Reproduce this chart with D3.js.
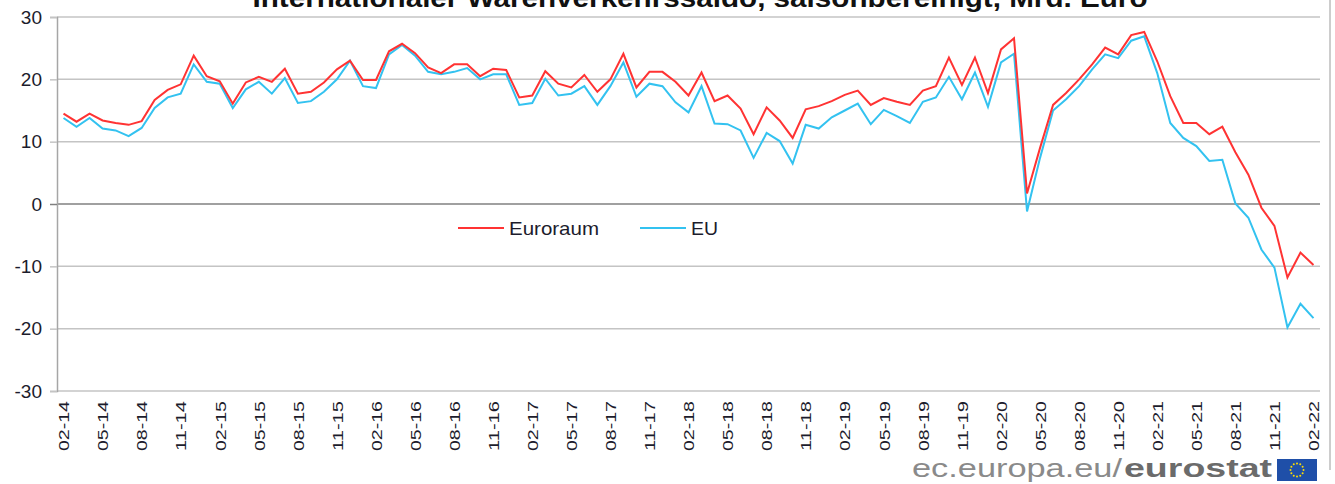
<!DOCTYPE html>
<html>
<head>
<meta charset="utf-8">
<script src="https://cdn.jsdelivr.net/npm/d3@7"></script>
<style>
  body { margin: 0; background: #fff; }
  svg { display: block; font-family: Arial, "Liberation Sans", sans-serif; }
</style>
</head>
<body>
<script>
let months = [
    "02-14","03-14","04-14","05-14","06-14","07-14","08-14","09-14","10-14","11-14","12-14",
    "01-15","02-15","03-15","04-15","05-15","06-15","07-15","08-15","09-15","10-15","11-15","12-15",
    "01-16","02-16","03-16","04-16","05-16","06-16","07-16","08-16","09-16","10-16","11-16","12-16",
    "01-17","02-17","03-17","04-17","05-17","06-17","07-17","08-17","09-17","10-17","11-17","12-17",
    "01-18","02-18","03-18","04-18","05-18","06-18","07-18","08-18","09-18","10-18","11-18","12-18",
    "01-19","02-19","03-19","04-19","05-19","06-19","07-19","08-19","09-19","10-19","11-19","12-19",
    "01-20","02-20","03-20","04-20","05-20","06-20","07-20","08-20","09-20","10-20","11-20","12-20",
    "01-21","02-21","03-21","04-21","05-21","06-21","07-21","08-21","09-21","10-21","11-21","12-21",
    "01-22","02-22"];

let tickLabels = ["02-14","05-14","08-14","11-14","02-15","05-15","08-15","11-15","02-16","05-16","08-16",
    "11-16","02-17","05-17","08-17","11-17","02-18","05-18","08-18","11-18","02-19","05-19","08-19","11-19",
    "02-20","05-20","08-20","11-20","02-21","05-21","08-21","11-21","02-22"];

let yTicks = [-30, -20, -10, 0, 10, 20, 30];

// Euroraum, Mrd. Euro
let euroraum = [
    14.5, 13.2, 14.5, 13.4, 13.0, 12.7, 13.3, 16.7, 18.3, 19.2, 23.8,
    20.5, 19.7, 16.1, 19.5, 20.4, 19.6, 21.7, 17.7, 18.0, 19.5, 21.6, 23.0,
    19.9, 19.9, 24.5, 25.7, 24.2, 21.9, 21.0, 22.4, 22.4, 20.5, 21.7, 21.5,
    17.1, 17.4, 21.3, 19.3, 18.7, 20.7, 18.0, 20.0, 24.1, 18.7, 21.2, 21.2,
    19.6, 17.4, 21.1, 16.5, 17.4, 15.3, 11.2, 15.5, 13.4, 10.6, 15.2, 15.7,
    16.5, 17.5, 18.2, 15.9, 17.0, 16.4, 15.9, 18.2, 18.9, 23.5, 19.1, 23.5,
    17.8, 24.8, 26.6, 1.7, 9.0, 15.9, 17.8, 20.0, 22.4, 25.1, 24.0, 27.1,
    27.6, 22.9, 17.3, 13.0, 13.0, 11.2, 12.4, 8.3, 4.7, -0.6, -3.5, -11.8,
    -7.8, -9.8];

// EU, Mrd. Euro
let eu = [
    13.8, 12.4, 13.8, 12.1, 11.8, 10.9, 12.2, 15.4, 17.1, 17.7, 22.4,
    19.6, 19.3, 15.4, 18.4, 19.6, 17.7, 20.2, 16.2, 16.5, 18.0, 20.0, 23.0,
    18.9, 18.6, 24.0, 25.5, 23.8, 21.2, 20.8, 21.2, 21.8, 20.0, 20.8, 20.8,
    15.9, 16.2, 20.1, 17.4, 17.7, 18.9, 15.9, 18.9, 22.7, 17.2, 19.3, 18.9,
    16.3, 14.7, 18.9, 12.9, 12.8, 11.8, 7.4, 11.4, 10.1, 6.5, 12.7, 12.1,
    13.9, 15.0, 16.1, 12.8, 15.1, 14.1, 13.0, 16.4, 17.1, 20.4, 16.8, 21.1,
    15.6, 22.7, 24.1, -1.2, 7.4, 15.0, 16.8, 18.9, 21.6, 24.0, 23.4, 26.2,
    26.9, 21.0, 13.0, 10.6, 9.3, 6.9, 7.1, 0.1, -2.2, -7.3, -10.2, -19.8,
    -16.0, -18.3];

let svgWidth = 1335,
    svgHeight = 484,
    plot = { left: 57, right: 1320, top: 17, bottom: 391 },
    redColor = "#ff3333",
    blueColor = "#33c2f0";

let svg = d3.select("body").append("svg")
    .attr("width", svgWidth)
    .attr("height", svgHeight);

let x = d3.scalePoint().domain(months).range([plot.left, plot.right]).padding(0.5);
let y = d3.scaleLinear().domain([-30, 30]).range([plot.bottom, plot.top]);

// title (cut off at the top edge in the original)
svg.append("text")
    .attr("x", 700)
    .attr("y", 7)
    .attr("text-anchor", "middle")
    .attr("textLength", 895)
    .attr("lengthAdjust", "spacingAndGlyphs")
    .style("font-size", "26px")
    .style("font-weight", "bold")
    .style("fill", "#111")
    .text("Internationaler Warenverkehrssaldo, saisonbereinigt, Mrd. Euro");

// grid lines
svg.append("g")
    .selectAll("line")
    .data(yTicks)
    .join("line")
    .attr("x1", plot.left)
    .attr("x2", plot.right)
    .attr("y1", d => y(d))
    .attr("y2", d => y(d))
    .attr("stroke", d => d === 0 ? "#808080" : "#c4c4c4")
    .attr("stroke-width", 1.5);

// y axis: outward ticks + labels
let yAxis = d3.axisLeft(y).tickValues(yTicks).tickSize(7).tickPadding(8).tickFormat(d => String(d));
let yAxisG = svg.append("g")
    .attr("transform", "translate(" + plot.left + ",0)")
    .call(yAxis);
yAxisG.select(".domain")
    .attr("stroke", "#a6a6a6")
    .attr("stroke-width", 1.5);
yAxisG.selectAll(".tick line")
    .attr("stroke", d => d === 0 ? "#808080" : "#c4c4c4")
    .attr("stroke-width", 1.5);
yAxisG.selectAll(".tick text")
    .attr("x", -15)
    .style("font-family", "Arial, 'Liberation Sans', sans-serif")
    .style("font-size", "19px")
    .style("fill", "#1c1c2c");

// x labels
let xAxis = d3.axisBottom(x).tickValues(tickLabels).tickSize(0);
let xAxisG = svg.append("g")
    .attr("transform", "translate(0," + plot.bottom + ")")
    .call(xAxis);
xAxisG.select(".domain").remove();
xAxisG.selectAll(".tick text")
    .attr("transform", "translate(0,10) rotate(-90)")
    .attr("x", 0)
    .attr("y", 0)
    .attr("dy", "0.35em")
    .attr("text-anchor", "end")
    .attr("textLength", 50)
    .attr("lengthAdjust", "spacingAndGlyphs")
    .style("font-family", "Arial, 'Liberation Sans', sans-serif")
    .style("font-size", "15px")
    .style("fill", "#1c1c2c");

// lines
let line = d3.line()
    .x((d, i) => x(months[i]))
    .y(d => y(d));

svg.append("path")
    .datum(eu)
    .attr("d", line)
    .attr("fill", "none")
    .attr("stroke", blueColor)
    .attr("stroke-width", 2);

svg.append("path")
    .datum(euroraum)
    .attr("d", line)
    .attr("fill", "none")
    .attr("stroke", redColor)
    .attr("stroke-width", 2);

// legend
let legendItems = [
    { name: "Euroraum", color: redColor, x: 458, w: 90 },
    { name: "EU", color: blueColor, x: 640, w: 27 }
];
let legend = svg.append("g");
legendItems.forEach(item => {
    legend.append("line")
        .attr("x1", item.x).attr("x2", item.x + 46)
        .attr("y1", 228).attr("y2", 228)
        .attr("stroke", item.color)
        .attr("stroke-width", 2);
    legend.append("text")
        .attr("x", item.x + 51)
        .attr("y", 235)
        .attr("textLength", item.w)
        .attr("lengthAdjust", "spacingAndGlyphs")
        .style("font-size", "19px")
        .style("fill", "#1c1c2c")
        .text(item.name);
});

// right frame border
svg.append("line")
    .attr("x1", 1330).attr("x2", 1330)
    .attr("y1", 0).attr("y2", 470)
    .attr("stroke", "#bdbdbd")
    .attr("stroke-width", 1.5);

// eurostat logo
let logo = svg.append("g");
logo.append("text")
    .attr("x", 912)
    .attr("y", 477)
    .attr("textLength", 210)
    .attr("lengthAdjust", "spacingAndGlyphs")
    .style("font-size", "26px")
    .style("fill", "#8a8a8a")
    .text("ec.europa.eu/");
logo.append("text")
    .attr("x", 1124)
    .attr("y", 477)
    .attr("textLength", 148)
    .attr("lengthAdjust", "spacingAndGlyphs")
    .style("font-size", "26px")
    .style("font-weight", "bold")
    .style("fill", "#6b6b6b")
    .text("eurostat");
logo.append("rect")
    .attr("x", 1277).attr("y", 459)
    .attr("width", 40).attr("height", 22)
    .attr("fill", "#1f4fa8");
d3.range(12).forEach(k => {
    let a = k / 12 * 2 * Math.PI;
    logo.append("circle")
        .attr("cx", 1297 + 6.5 * Math.cos(a))
        .attr("cy", 470 + 6.5 * Math.sin(a))
        .attr("r", 1)
        .attr("fill", "#ffdd00");
});
</script>
</body>
</html>
